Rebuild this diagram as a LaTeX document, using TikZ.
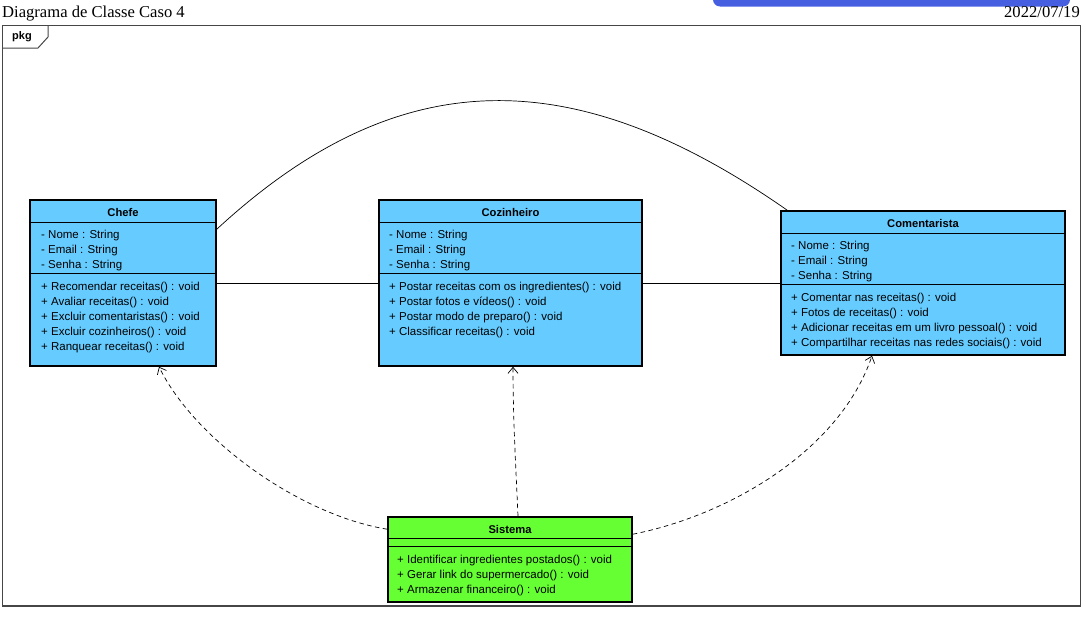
\documentclass[tikz,border=0pt]{standalone}
\usepackage{fontspec}
\setmainfont{Liberation Serif}
\newfontfamily\arialfont{Liberation Sans}
\usetikzlibrary{arrows.meta}
\definecolor{classblue}{RGB}{102,204,255}
\definecolor{sysgreen}{RGB}{102,255,51}
\definecolor{barblue}{RGB}{70,95,225}
\definecolor{framegray}{RGB}{70,70,70}
\begin{document}
\begin{tikzpicture}[x=1pt,y=-1pt,
  classbox/.style={draw=black, line width=1.6pt, inner sep=0pt},
  sepline/.style={draw=black, line width=0.8pt},
  ctitle/.style={inner sep=0pt, font=\arialfont\bfseries\fontsize{11.2}{13}\selectfont},
  member/.style={anchor=base west, inner sep=0pt, font=\arialfont\fontsize{11.5}{13}\selectfont},
  assoc/.style={draw=black, line width=0.7pt},
  depend/.style={draw=black, line width=0.7pt, dash pattern=on 4.5pt off 3.5pt,
     -{Straight Barb[length=6pt,width=10pt,line width=0.7pt]}},
  hdrtext/.style={inner sep=0pt, font=\fontsize{16.6}{18}\selectfont}
]
\useasboundingbox (0,0) rectangle (1086,616);
\fill[white] (0,0) rectangle (1086,616);
% top blue bar
\fill[barblue, rounded corners=7pt] (713,-20) rectangle (1070,6.5);
% headers
\node[hdrtext, anchor=base west] (title) at (2,17) {Diagrama de Classe Caso 4};
\node[hdrtext, anchor=base east] (date) at (1080,17) {2022/07/19};
% frame
\draw[framegray, line width=1pt] (2,25) rectangle (1080,606);
\draw[framegray, line width=1.8pt] (2,606) -- (1080,606);
\draw[framegray, line width=1pt] (48,25) -- (48,37) -- (38,48) -- (2,48);
\node[inner sep=0pt, font=\arialfont\bfseries\fontsize{11}{13}\selectfont] (pkg) at (22,37) {pkg};

% ---------- Chefe ----------
\node[classbox, fill=classblue, minimum width=186pt, minimum height=166pt] (chefe) at (123,283) {};
\draw[sepline] ([yshift=-23pt]chefe.north west) -- ([yshift=-23pt]chefe.north east);
\draw[sepline] ([yshift=-74pt]chefe.north west) -- ([yshift=-74pt]chefe.north east);
\node[ctitle] (chefeT) at (123,212.5) {Chefe};
\node[member] (chefeA1) at (41,238.5) {- Nome : String};
\node[member] (chefeA2) at (41,253.5) {- Email : String};
\node[member] (chefeA3) at (41,268.5) {- Senha : String};
\node[member] (chefeM1) at (41,290.5) {+ Recomendar receitas() : void};
\node[member] (chefeM2) at (41,305.5) {+ Avaliar receitas() : void};
\node[member] (chefeM3) at (41,320.5) {+ Excluir comentaristas() : void};
\node[member] (chefeM4) at (41,335.5) {+ Excluir cozinheiros() : void};
\node[member] (chefeM5) at (41,350.5) {+ Ranquear receitas() : void};

% ---------- Cozinheiro ----------
\node[classbox, fill=classblue, minimum width=263pt, minimum height=166pt] (coz) at (510.5,283) {};
\draw[sepline] ([yshift=-23pt]coz.north west) -- ([yshift=-23pt]coz.north east);
\draw[sepline] ([yshift=-74pt]coz.north west) -- ([yshift=-74pt]coz.north east);
\node[ctitle] (cozT) at (510.5,212.5) {Cozinheiro};
\node[member] (cozA1) at (389,238.5) {- Nome : String};
\node[member] (cozA2) at (389,253.5) {- Email : String};
\node[member] (cozA3) at (389,268.5) {- Senha : String};
\node[member] (cozM1) at (389,290.5) {+ Postar receitas com os ingredientes() : void};
\node[member] (cozM2) at (389,305.5) {+ Postar fotos e vídeos() : void};
\node[member] (cozM3) at (389,320.5) {+ Postar modo de preparo() : void};
\node[member] (cozM4) at (389,335.5) {+ Classificar receitas() : void};

% ---------- Comentarista ----------
\node[classbox, fill=classblue, minimum width=284pt, minimum height=144pt] (com) at (923,283) {};
\draw[sepline] ([yshift=-23pt]com.north west) -- ([yshift=-23pt]com.north east);
\draw[sepline] ([yshift=-74pt]com.north west) -- ([yshift=-74pt]com.north east);
\node[ctitle] (comT) at (923,223.5) {Comentarista};
\node[member] (comA1) at (791,249.5) {- Nome : String};
\node[member] (comA2) at (791,264.5) {- Email : String};
\node[member] (comA3) at (791,279.5) {- Senha : String};
\node[member] (comM1) at (791,301.5) {+ Comentar nas receitas() : void};
\node[member] (comM2) at (791,316.5) {+ Fotos de receitas() : void};
\node[member] (comM3) at (791,331.5) {+ Adicionar receitas em um livro pessoal() : void};
\node[member] (comM4) at (791,346.5) {+ Compartilhar receitas nas redes sociais() : void};

% ---------- Sistema ----------
\node[classbox, fill=sysgreen, minimum width=244pt, minimum height=85pt] (sis) at (510,559.5) {};
\draw[sepline] ([yshift=-22pt]sis.north west) -- ([yshift=-22pt]sis.north east);
\draw[sepline] ([yshift=-30pt]sis.north west) -- ([yshift=-30pt]sis.north east);
\node[ctitle] (sisT) at (510,529) {Sistema};
\node[member] (sisM1) at (397,563.5) {+ Identificar ingredientes postados() : void};
\node[member] (sisM2) at (397,578.5) {+ Gerar link do supermercado() : void};
\node[member] (sisM3) at (397,593.5) {+ Armazenar financeiro() : void};

% ---------- associations ----------
\draw[assoc] (chefe.east) -- (coz.west);
\draw[assoc] (coz.east) -- (com.west);
\draw[assoc] ([yshift=-30pt]chefe.north east) .. controls (400,60) and (575,62) .. ([xshift=7pt]com.north west);

% ---------- dependencies ----------
\draw[depend] ([yshift=-13pt]sis.north west) .. controls (300,515) and (195,440) .. ([xshift=36pt]chefe.south);
\draw[depend] ([xshift=8pt]sis.north) .. controls (516,470) and (513,420) .. ([xshift=2.5pt]coz.south);
\draw[depend] ([yshift=-18pt]sis.north east) .. controls (730,515) and (840,450) .. ([xshift=-51pt]com.south);
\end{tikzpicture}
\end{document}
